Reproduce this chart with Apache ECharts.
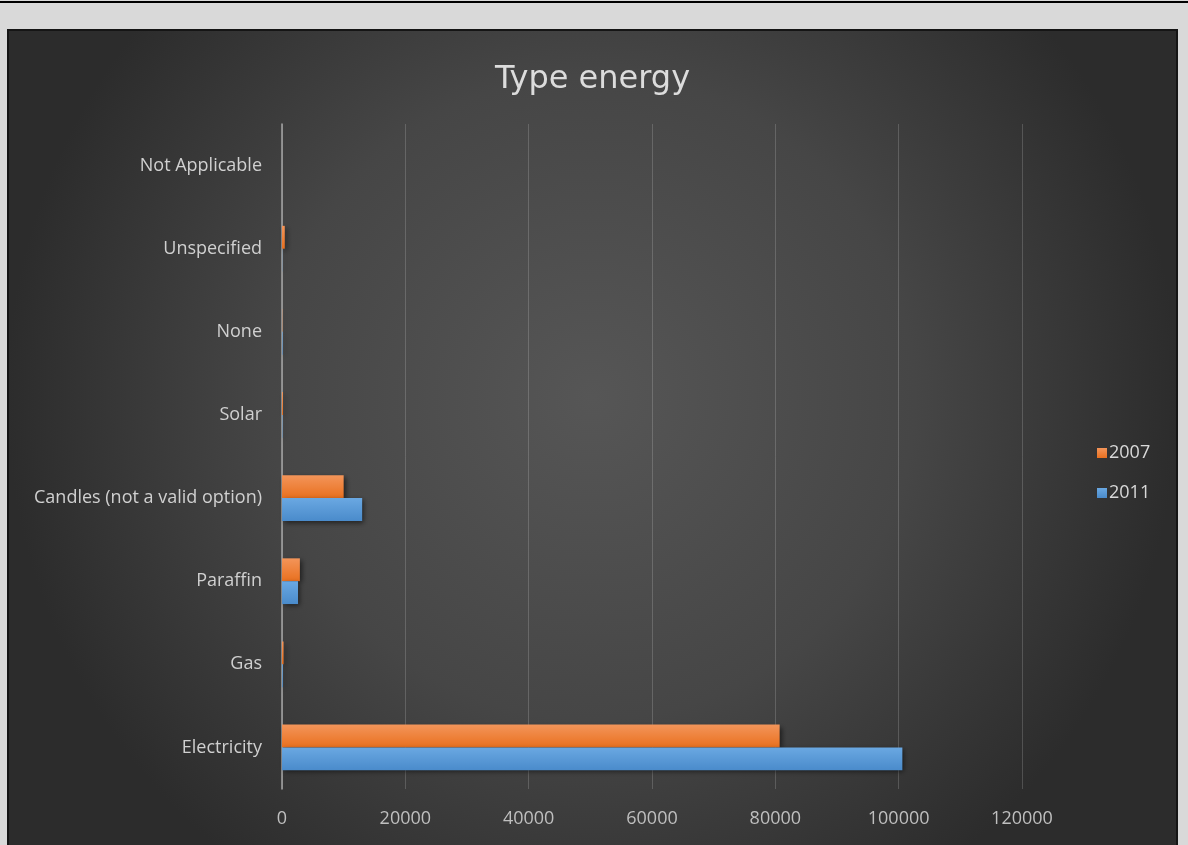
<!DOCTYPE html>
<html>
<head>
<meta charset="utf-8">
<script src="https://cdn.jsdelivr.net/npm/echarts@6/dist/echarts.min.js"></script>
<style>
  html, body { margin: 0; padding: 0; width: 1188px; height: 845px; overflow: hidden; background: #d9d9d9; }
  #topline { position: absolute; left: 0; top: 1px; width: 1188px; height: 2px; background: #000; }
  #chart { position: absolute; left: 7px; top: 29px; width: 1167px; height: 814px; border: 2px solid #151515; }
</style>
</head>
<body>
<div id="topline"></div>
<div id="chart"></div>
<script>
// Household energy source counts for 2007 and 2011
const categories = ['Electricity', 'Gas', 'Paraffin', 'Candles (not a valid option)', 'Solar', 'None', 'Unspecified', 'Not Applicable'];
const values2007 = [80700, 250, 2900, 10000, 150, 40, 450, 0];
const values2011 = [100600, 120, 2600, 13000, 60, 90, 30, 0];
const seriesNames = ['2007', '2011'];
const valueTicks = { min: 0, max: 120000, interval: 20000 };

const FONT = '"Open Sans", "Noto Sans", sans-serif';

function barFill(top, bottom) {
  return new echarts.graphic.LinearGradient(0, 0, 0, 1, [
    { offset: 0, color: top },
    { offset: 1, color: bottom }
  ]);
}

const chart = echarts.init(document.getElementById('chart'), null, { renderer: 'canvas' });

chart.setOption({
  backgroundColor: {
    type: 'radial', x: 0.5, y: 0.45, r: 0.72,
    colorStops: [
      { offset: 0, color: '#565656' },
      { offset: 0.55, color: '#464646' },
      { offset: 1, color: '#2c2c2c' }
    ]
  },
  animation: false,
  title: {
    text: 'Type energy',
    left: 'center',
    top: 28,
    textStyle: { color: '#dcdcdc', fontFamily: '"DejaVu Sans", sans-serif', fontSize: 32, fontWeight: 'normal' }
  },
  legend: {
    data: seriesNames,
    orient: 'vertical',
    left: 1083,
    top: 408,
    itemWidth: 10,
    itemHeight: 10,
    itemGap: 22,
    icon: 'rect',
    textStyle: { color: '#d9d9d9', fontFamily: FONT, fontSize: 18, padding: [0, 0, 0, -3] }
  },
  grid: { left: 273, right: 154, top: 93, bottom: 56, containLabel: false },
  xAxis: {
    type: 'value',
    min: valueTicks.min,
    max: valueTicks.max,
    interval: valueTicks.interval,
    axisLine: { show: false },
    axisTick: { show: false },
    splitLine: { lineStyle: { color: 'rgba(255,255,255,0.17)', width: 1 } },
    axisLabel: { color: '#bfbfbf', fontFamily: FONT, fontSize: 18, margin: 21, formatter: v => String(v) }
  },
  yAxis: {
    type: 'category',
    data: categories,
    axisLine: { show: true, lineStyle: { color: '#a6a6a6', width: 1.5 } },
    axisTick: { show: false },
    axisLabel: { color: '#d0d0d0', fontFamily: FONT, fontSize: 18, margin: 20, padding: [3, 0, 0, 0] }
  },
  series: [
    {
      name: '2007',
      type: 'bar',
      data: values2007,
      barGap: '0%',
      barCategoryGap: '45%',
      itemStyle: {
        color: barFill('#f3955a', '#e9701f'),
        shadowColor: 'rgba(0,0,0,0.55)', shadowBlur: 5, shadowOffsetX: 2, shadowOffsetY: 2
      }
    },
    {
      name: '2011',
      type: 'bar',
      data: values2011,
      barGap: '0%',
      barCategoryGap: '45%',
      itemStyle: {
        color: barFill('#6aa8e2', '#4a8bcb'),
        shadowColor: 'rgba(0,0,0,0.55)', shadowBlur: 5, shadowOffsetX: 2, shadowOffsetY: 2
      }
    }
  ],
  color: ['#ed7d31', '#5b9bd5']
});
</script>
</body>
</html>
